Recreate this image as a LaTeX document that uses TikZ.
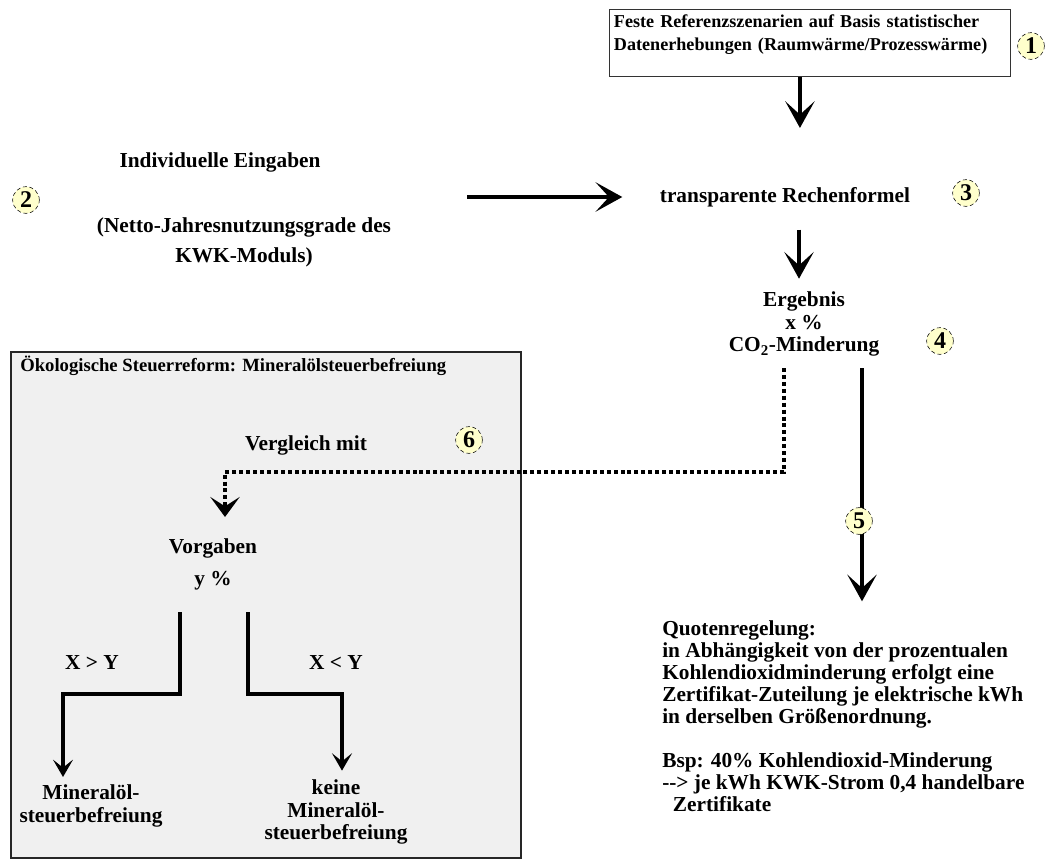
\documentclass[tikz,border=0pt]{standalone}
\usepackage{fontspec}
\setmainfont{Liberation Serif}
\usetikzlibrary{arrows.meta, positioning, calc}
\definecolor{cMark}{RGB}{255,255,204}
\definecolor{cPanel}{RGB}{240,240,240}
\tikzset{
    marker/.style   ={circle, draw=black, densely dashed, thin, fill=cMark, minimum size=20pt, inner sep=0pt, font=\fontsize{18}{18}\selectfont\bfseries},
    txt/.style      ={align=center, font=\fontsize{16}{16.5}\selectfont\bfseries, inner sep=2pt},
    refbox/.style   ={rectangle, draw=black!80, thin, align=left, text width=294pt, inner xsep=3.5pt, inner ysep=4pt, text depth=33pt, font=\fontsize{13.6}{17}\selectfont\bfseries},
    panel/.style    ={draw=black!85, line width=1.5pt, fill=cPanel},
    flowarrow/.style={-{Stealth[length=20pt, width=22pt, inset=10pt]}, line width=3pt},
    brancharrow/.style={-{Stealth[length=13pt, width=15pt, inset=6pt]}, line width=2.4pt},
    dotarrow/.style ={-{Stealth[length=15pt, width=22pt, inset=7pt]}, line width=2.5pt, dash pattern=on 3pt off 2.2pt},
}

\begin{document}
\begin{tikzpicture}[x=0.75pt, y=-0.75pt]
    \useasboundingbox (0,0) rectangle (1056,867);
    % panel for the tax reform part
    \draw[panel] (11,352) rectangle (521,858);
    \node[anchor=west, font=\fontsize{14}{14}\selectfont\bfseries, inner sep=0pt] (ecotitle) at (20,366) {Ökologische Steuerreform: Mineralölsteuerbefreiung};

    \node[refbox, anchor=north west] (ref) at (609,9) {Feste Referenzszenarien auf Basis statistischer\\Datenerhebungen (Raumwärme/Prozesswärme)};
    \node[txt] (inp) at (220,162) {Individuelle Eingaben};
    \node[txt, font=\fontsize{16}{22.5}\selectfont\bfseries] (inpnote) at (244,242) {(Netto-Jahresnutzungsgrade des\\KWK-Moduls)};
    \node[txt] (calc) at (785,197) {transparente Rechenformel};
    \node[txt, font=\fontsize{16}{17}\selectfont\bfseries] (res) at (804,324) {Ergebnis\\x \%\\CO\textsubscript{2}-Minderung};
    \node[txt] (cmp) at (306,445) {Vergleich mit};
    \node[txt, font=\fontsize{16}{24}\selectfont\bfseries] (vor) at (213,564) {Vorgaben\\y \%};
    \node[txt] (gt) at (92,663) {X > Y};
    \node[txt] (lt) at (336,663) {X < Y};
    \node[txt, font=\fontsize{16}{17}\selectfont\bfseries] (yes) at (91,806) {Mineralöl-\\steuerbefreiung};
    \node[txt, font=\fontsize{16}{17}\selectfont\bfseries] (no) at (336,812) {keine\\Mineralöl-\\steuerbefreiung};
    \node[txt, align=left, anchor=north west, inner sep=0pt] (quote) at (662,620) {Quotenregelung:\\in Abhängigkeit von der prozentualen\\Kohlendioxidminderung erfolgt eine\\Zertifikat-Zuteilung je elektrische kWh\\in derselben Größenordnung.\\[16.5pt]Bsp: 40\% Kohlendioxid-Minderung\\-{}-{}> je kWh KWK-Strom 0,4 handelbare\\\hspace*{8pt}Zertifikate};

    % arrows
    \coordinate (inpout) at (467,197);
    \coordinate (resdot) at (784,368);
    \coordinate (resout) at (862,368);
    \coordinate (vortop) at (225,517);
    \coordinate (bl) at (180,612);
    \coordinate (br) at (248,612);
    \draw[flowarrow] ($(ref.south)+(-10,0)$) -- ++(0,51);
    \draw[flowarrow, shorten >=26pt] (inpout) -- (inpout -| calc.west);
    \draw[flowarrow] ($(calc.south)+(14,20)$) -- ++(0,49);
    \draw[flowarrow, shorten >=14pt] (resout) -- (resout |- quote.north);
    \draw[dotarrow] (resdot) |- (225,472) -- (vortop);
    \draw[brancharrow] (bl) |- (63,694) -- ($(yes.north)+(-28,-5)$);
    \draw[brancharrow] (br) |- (342,694) -- ($(no.north)+(6,-6)$);

    % numbered markers
    \node[marker] (m1) at (1031,46) {1};
    \node[marker] (m2) at (26,200) {2};
    \node[marker] (m3) at (966,193) {3};
    \node[marker] (m4) at (940,341) {4};
    \node[marker] (m5) at (859,521) {5};
    \node[marker] (m6) at (469,440) {6};
\end{tikzpicture}
\end{document}
